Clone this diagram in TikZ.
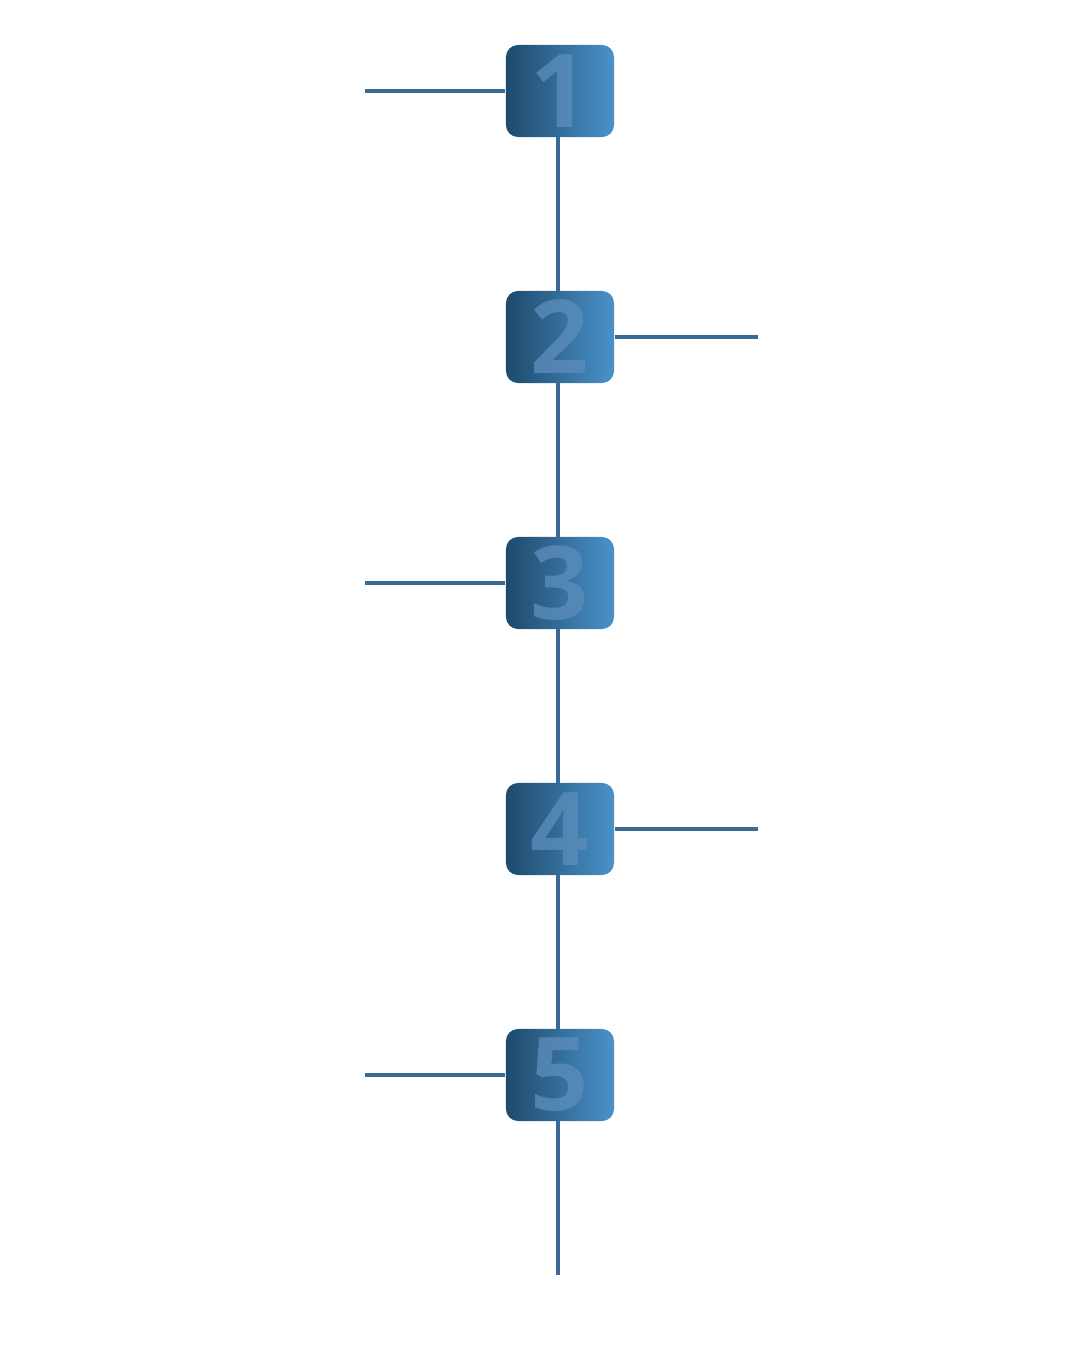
\documentclass[tikz,border=0pt]{standalone}
\usepackage{fontspec}
\setmainfont{Open Sans}
\definecolor{ln}{HTML}{3A6A95}
\definecolor{bl}{HTML}{1E4A6C}
\definecolor{br}{HTML}{4A92CA}
\definecolor{dg}{HTML}{5A8CBA}
\begin{document}
\begin{tikzpicture}[x=0.01cm,y=-0.01cm,
 box/.style={minimum width=1.08cm,minimum height=0.92cm,rounded corners=0.12cm,left color=bl,right color=br,inner sep=0pt,font=\fontsize{29}{30}\bfseries\selectfont,text=dg,text opacity=0.8},
 con/.style={draw=ln,line width=1.2pt}]
\useasboundingbox (0,0) rectangle (1080,1350);
\coordinate (l1) at (365,91); \coordinate (r2) at (758,337);
\coordinate (l3) at (365,583); \coordinate (r4) at (758,829);
\coordinate (l5) at (365,1075); \coordinate (end) at (558,1275);
\draw[con] (558,91) -- (end);
\node[box] (b1) at (560,91) {1};
\node[box] (b2) at (560,337) {2};
\node[box] (b3) at (560,583) {3};
\node[box] (b4) at (560,829) {4};
\node[box] (b5) at (560,1075) {5};
\draw[con] (l1) -- (b1.west);
\draw[con] (b2.east) -- (r2);
\draw[con] (l3) -- (b3.west);
\draw[con] (b4.east) -- (r4);
\draw[con] (l5) -- (b5.west);
\end{tikzpicture}
\end{document}
